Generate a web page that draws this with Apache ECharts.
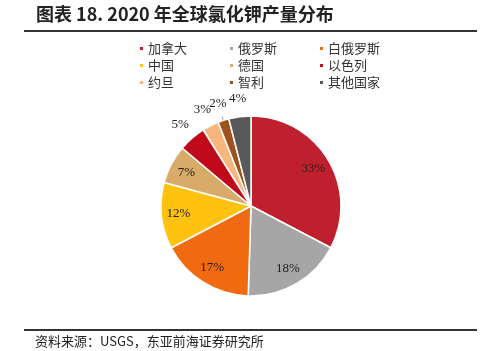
<!DOCTYPE html>
<html>
<head>
<meta charset="utf-8">
<script src="https://cdn.jsdelivr.net/npm/echarts@6/dist/echarts.min.js"></script>
<style>
  html, body { margin: 0; padding: 0; background: #fff; }
  #main { width: 500px; height: 351px; }
</style>
</head>
<body>
<div id="main"></div>
<script>
// 各国氯化钾产量占比（%）
const countries = ['加拿大', '俄罗斯', '白俄罗斯', '中国', '德国', '以色列', '约旦', '智利', '其他国家'];
const shares = [33, 18, 17, 12, 7, 5, 3, 2, 4];
const colors = ['#C0202E', '#A6A6A6', '#F26A10', '#FFC20E', '#D8AC68', '#C00A1C', '#F8B67C', '#A0521C', '#595959'];
const insideLabel = [true, true, true, true, true, false, false, false, false];

const chart = echarts.init(document.getElementById('main'), null, { renderer: 'canvas' });

const legendBase = {
  orient: 'vertical',
  top: 37,
  itemWidth: 5,
  itemHeight: 5,
  itemGap: 4,
  icon: 'rect',
  textStyle: { fontFamily: 'Noto Sans CJK SC', fontSize: 13, color: '#333', padding: [0, 0, 0, -1] }
};

const labelFont = { fontFamily: 'Liberation Serif', fontSize: 13, color: '#222' };

// 透明环带，只用来放标签
function labelRing(radius, showFn) {
  return {
    type: 'pie',
    center: [251, 206],
    radius: radius,
    startAngle: 90,
    clockwise: true,
    silent: true,
    avoidLabelOverlap: false,
    labelLayout: { hideOverlap: false },
    itemStyle: { color: 'rgba(0,0,0,0)' },
    label: Object.assign({ formatter: '{c}%', position: 'inside' }, labelFont),
    labelLine: { show: false },
    data: countries.map((name, i) => ({
      name: name,
      value: shares[i],
      label: { show: showFn(i) }
    }))
  };
}

const option = {
  animation: false,
  color: colors,
  legend: [
    Object.assign({}, legendBase, { left: 133, data: [countries[0], countries[3], countries[6]] }),
    Object.assign({}, legendBase, { left: 223, data: [countries[1], countries[4], countries[7]] }),
    Object.assign({}, legendBase, { left: 313, data: [countries[2], countries[5], countries[8]] })
  ],
  graphic: [
    {
      type: 'text', left: 36, top: 5,
      style: { text: '图表 18. 2020 年全球氯化钾产量分布', font: 'bold 18px "Noto Sans CJK SC"', fill: '#222' }
    },
    { type: 'rect', shape: { x: 24, y: 30, width: 453, height: 2 }, style: { fill: '#333' } },
    { type: 'rect', shape: { x: 24, y: 329, width: 453, height: 2 }, style: { fill: '#333' } },
    {
      type: 'text', left: 35, top: 335,
      style: { text: '资料来源：USGS，东亚前海证券研究所', font: '13px "Noto Sans CJK SC"', fill: '#222' }
    }
  ],
  series: [
    {
      // 饼图本体（智利扇区带一条短引线）
      type: 'pie',
      center: [251, 206],
      radius: [0, 90],
      startAngle: 90,
      clockwise: true,
      avoidLabelOverlap: false,
      itemStyle: { borderColor: '#fff', borderWidth: 1.5 },
      label: { position: 'outside', formatter: ' ', fontSize: 4 },
      labelLine: { length: 4, length2: 0, lineStyle: { color: '#999' } },
      data: countries.map((name, i) => ({
        name: name,
        value: shares[i],
        label: { show: name === '智利' },
        labelLine: { show: name === '智利' }
      }))
    },
    labelRing([50, 90], i => insideLabel[i]),
    labelRing([94, 116], i => !insideLabel[i])
  ]
};

chart.setOption(option);
window.addEventListener('resize', function () {
  chart.resize();
});
</script>
</body>
</html>
